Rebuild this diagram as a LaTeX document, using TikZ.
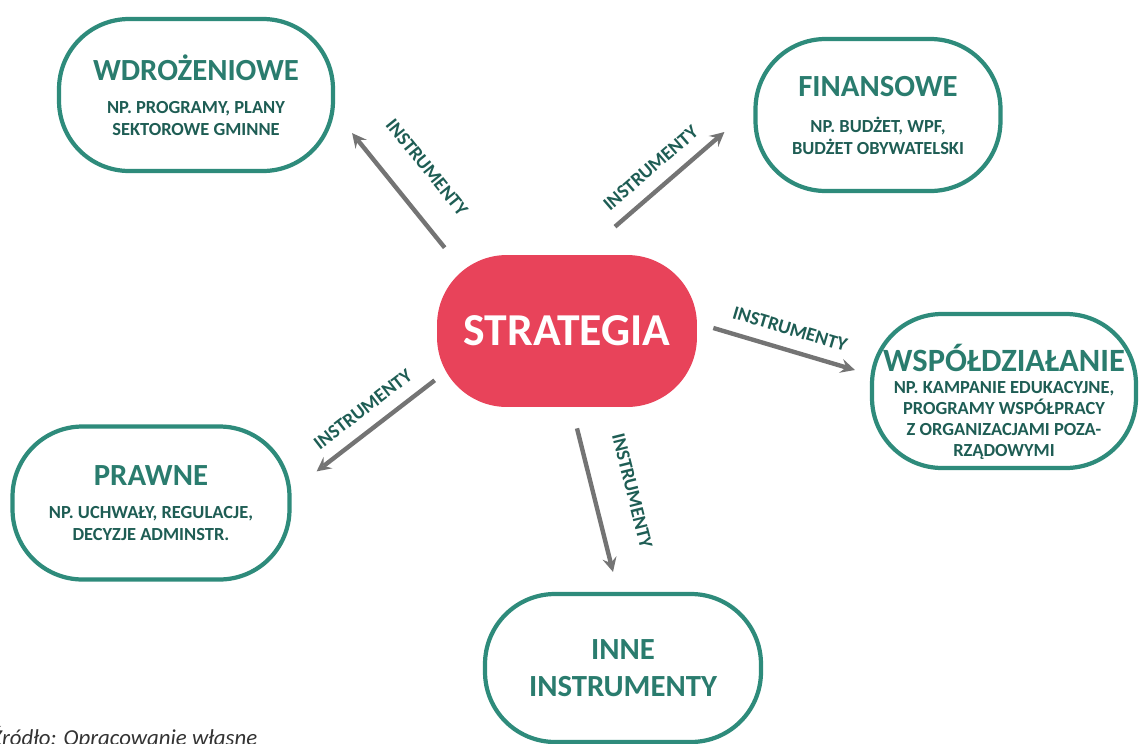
\documentclass[tikz,border=0pt]{standalone}
\usepackage{fontspec}
\setmainfont{Carlito}
\usetikzlibrary{calc}
\definecolor{tealline}{HTML}{2E8B7B}
\definecolor{tealtext}{HTML}{2A7C6E}
\definecolor{tealdark}{HTML}{1E5D54}
\definecolor{stratred}{HTML}{E8435A}
\definecolor{arrgray}{HTML}{747474}
\definecolor{captgray}{HTML}{333333}
\newcommand\boxtitle{\fontsize{17.5}{21}\selectfont\bfseries\color{tealtext}}
\newcommand\boxsub{\fontsize{10.5}{12.5}\selectfont\bfseries}
\newcommand\arrlabel{\fontsize{11}{13}\selectfont\bfseries}
\tikzset{
	box/.style={draw=tealline, line width=2.4pt, rounded corners=1.4cm, fill=white,
		align=center, text=tealdark, font=\boxsub, inner sep=0pt},
	arr/.style={draw=arrgray, line width=2.5pt, -stealth},
	lbl/.style={sloped, above=7pt, font=\arrlabel, text=tealdark, inner sep=0pt}
}

\begin{document}
\begin{tikzpicture}[x=0.02cm, y=-0.02cm]
			%%%%% FRAME %%%%%
			\useasboundingbox (0,0) rectangle (1140,744);
			
			%%%%% CENTRE %%%%%
			\node[fill=stratred, rounded corners=1.4cm, minimum width=5.2cm, minimum height=3.04cm,
				text=white, font=\fontsize{26}{30}\selectfont\bfseries] (strat) at (567,331) {STRATEGIA};
			
			%%%%% BOXES %%%%%
			\node[box, minimum width=5.48cm, minimum height=3.04cm] (wdr) at (196,95)
				{{\boxtitle WDROŻENIOWE}\\[6pt] NP. PROGRAMY, PLANY\\ SEKTOROWE GMINNE};
			\node[box, minimum width=4.90cm, minimum height=3.04cm] (fin) at (878,115)
				{{\boxtitle FINANSOWE}\\[8pt] NP. BUDŻET, WPF,\\ BUDŻET OBYWATELSKI};
			\node[box, minimum width=5.28cm, minimum height=3.08cm, font=\fontsize{10.5}{12}\selectfont\bfseries] (wsp) at (1004,391)
				{{\boxtitle\fontsize{18.5}{21}\selectfont\rule{0pt}{28pt}WSPÓŁDZIAŁANIE}\\ NP. KAMPANIE EDUKACYJNE,\\ PROGRAMY WSPÓŁPRACY\\
				 Z ORGANIZACJAMI POZA-\\ RZĄDOWYMI};
			\node[box, minimum width=5.54cm, minimum height=3.06cm] (pra) at (151,503)
				{{\boxtitle PRAWNE}\\[6pt] NP. UCHWAŁY, REGULACJE,\\ DECYZJE ADMINSTR.};
			\node[box, minimum width=5.52cm, minimum height=2.96cm, font=\boxtitle, text=tealtext] (inn) at (623,668)
				{INNE\\ INSTRUMENTY};
			
			%%%%% ARROWS %%%%%
			\draw[arr] ([shift={(8,-7)}]strat.north west) -- node[lbl, above=9pt] {INSTRUMENTY} ([shift={(17,-40)}]wdr.south east);
			\draw[arr] ([shift={(48,-28)}]strat.north) -- node[lbl, pos=0.45] {INSTRUMENTY} ([shift={(-29,17)}]fin.west);
			\draw[arr] ([shift={(16,-3)}]strat.east) -- node[lbl] {INSTRUMENTY} ([shift={(-15,-21)}]wsp.west);
			\draw[arr] ([shift={(-2,-27)}]strat.south west) -- node[lbl] {INSTRUMENTY} ([shift={(25,47)}]pra.north east);
			\draw[arr] ([shift={(10,21)}]strat.south) -- node[lbl, above=10pt] {INSTRUMENTY} ([shift={(-10,-20)}]inn.north);
			
			%%%%% SOURCE %%%%%
			\node[anchor=base west, inner sep=0pt, text=captgray, font=\fontsize{13}{15}\selectfont\itshape] (src) at (-9,745)
				{Źródło: Opracowanie własne};
		\end{tikzpicture}
\end{document}
